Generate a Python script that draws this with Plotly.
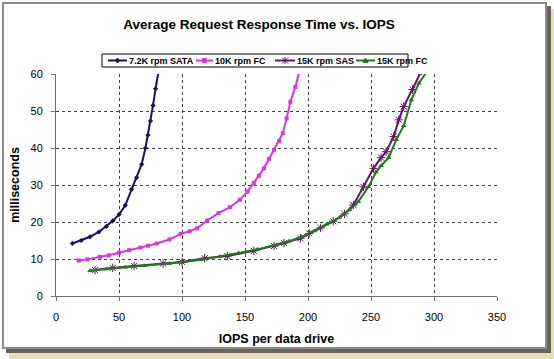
import plotly.graph_objects as go

# ---------------- data ----------------
sata_x = [13, 20, 27, 34, 40, 45, 50, 55, 60, 64, 68, 71, 73, 75, 77, 79, 81.5]
sata_y = [14.2, 15.0, 16.0, 17.3, 18.8, 20.3, 22.0, 24.5, 28.8, 32.0, 35.6, 40.0, 43.5, 47.3, 51.5, 56.0, 61.0]

fc10_x = [18, 25, 35, 42, 50, 58, 67, 73, 80, 90, 99, 106, 112, 120, 129, 138, 146, 152, 157, 161, 165, 169, 173, 177, 180, 183, 186, 190, 193]
fc10_y = [9.6, 9.9, 10.6, 11.0, 11.7, 12.4, 13.1, 13.6, 14.2, 15.3, 16.8, 17.5, 18.3, 20.4, 22.4, 24.0, 26.0, 28.2, 30.5, 32.5, 34.5, 37.0, 39.5, 41.8, 44.0, 48.0, 52.5, 56.5, 60.5]

sas_x = [31, 45, 62, 85, 100, 118, 136, 157, 173, 181, 194, 201, 210, 220, 229, 236, 244, 252, 258, 262, 268, 272, 276, 283, 290]
sas_y = [7.0, 7.6, 8.1, 8.8, 9.2, 10.2, 10.8, 12.2, 13.5, 14.3, 15.6, 16.9, 18.4, 20.2, 22.2, 24.6, 29.5, 34.5, 37.4, 39.0, 43.1, 47.6, 51.2, 55.8, 60.8]

fc15_x = [27, 40, 55, 70, 90, 100, 115, 130, 145, 160, 175, 185, 195, 205, 215, 225, 233, 240, 248, 254, 258, 264, 270, 276, 282, 288, 295]
fc15_y = [6.8, 7.3, 7.8, 8.2, 8.8, 9.1, 9.8, 10.6, 11.6, 12.6, 13.8, 14.8, 16.0, 17.6, 19.4, 21.2, 23.3, 25.5, 29.5, 33.5, 35.2, 37.4, 42.2, 46.0, 53.0, 57.5, 61.0]

series_names = ["7.2K rpm SATA", "10K rpm FC", "15K rpm SAS", "15K rpm FC"]
x_ticks = [0, 50, 100, 150, 200, 250, 300, 350]
y_ticks = [0, 10, 20, 30, 40, 50, 60]

# ---------------- styling ----------------
FONT = "Liberation Sans, Arial, sans-serif"
colors = ["#14145e", "#dd33dd", "#6a0f6a", "#1f7a1f"]
W, H = 554, 359
ML, MR, MT, MB = 56, 57, 74, 63
PW, PH = W - ML - MR, H - MT - MB

def px(x):
    return (x - ML) / PW

def py(y):
    return (H - MB - y) / PH

fig = go.Figure()
fig.add_trace(go.Scatter(x=sata_x, y=sata_y, name=series_names[0], mode="lines+markers",
                         line=dict(color=colors[0], width=2),
                         marker=dict(symbol="diamond", size=4, color=colors[0])))
fig.add_trace(go.Scatter(x=fc10_x, y=fc10_y, name=series_names[1], mode="lines+markers",
                         line=dict(color=colors[1], width=2),
                         marker=dict(symbol="square", size=4, color=colors[1])))
fig.add_trace(go.Scatter(x=sas_x, y=sas_y, name=series_names[2], mode="lines+markers",
                         line=dict(color=colors[2], width=2),
                         marker=dict(symbol="asterisk-open", size=7, color=colors[2],
                                     line=dict(color=colors[2], width=1))))
fig.add_trace(go.Scatter(x=fc15_x, y=fc15_y, name=series_names[3], mode="lines+markers",
                         line=dict(color=colors[3], width=2),
                         marker=dict(symbol="triangle-up", size=5, color=colors[3])))

shapes = []
# drop shadow + frame
shapes.append(dict(type="rect", xref="paper", yref="paper", layer="below",
                   x0=px(9), x1=px(556), y0=py(361), y1=py(9),
                   fillcolor="#e6dcb6", line=dict(width=0)))
shapes.append(dict(type="rect", xref="paper", yref="paper", layer="below",
                   x0=px(6), x1=px(551), y0=py(353), y1=py(6),
                   fillcolor="#66645c", line=dict(width=0)))
shapes.append(dict(type="rect", xref="paper", yref="paper", layer="below",
                   x0=px(3), x1=px(546), y0=py(348), y1=py(3),
                   fillcolor="white", line=dict(color="#8c8c8c", width=2)))

# custom legend
LY = 60.5
shapes.append(dict(type="rect", xref="paper", yref="paper",
                   x0=px(102), x1=px(408), y0=py(67), y1=py(54),
                   fillcolor="white", line=dict(color="black", width=1)))
legend_items = [(108, 127, 128), (196, 213, 214), (275, 295, 296), (356, 375, 376)]
annotations = []
for i, (a, b, t) in enumerate(legend_items):
    shapes.append(dict(type="line", xref="paper", yref="paper",
                       x0=px(a), x1=px(b), y0=py(LY), y1=py(LY),
                       line=dict(color=colors[i], width=2)))
    c = (a + b) / 2
    if i == 0:
        path = f"M{px(c)},{py(LY-2.5)} L{px(c+2)},{py(LY)} L{px(c)},{py(LY+2.5)} L{px(c-2)},{py(LY)} Z"
        shapes.append(dict(type="path", xref="paper", yref="paper", path=path,
                           fillcolor=colors[i], line=dict(color=colors[i], width=1)))
    elif i == 1:
        shapes.append(dict(type="rect", xref="paper", yref="paper",
                           x0=px(c-2), x1=px(c+2), y0=py(LY+2), y1=py(LY-2),
                           fillcolor=colors[i], line=dict(color=colors[i], width=1)))
    elif i == 2:
        for dx, dy in [(-3, -3), (-3, 3), (0, -3.5)]:
            shapes.append(dict(type="line", xref="paper", yref="paper",
                               x0=px(c+dx), x1=px(c-dx), y0=py(LY+dy), y1=py(LY-dy),
                               line=dict(color=colors[i], width=1)))
    else:
        path = f"M{px(c)},{py(LY-2.5)} L{px(c+2.5)},{py(LY+2)} L{px(c-2.5)},{py(LY+2)} Z"
        shapes.append(dict(type="path", xref="paper", yref="paper", path=path,
                           fillcolor=colors[i], line=dict(color=colors[i], width=1)))
    annotations.append(dict(text=f"<b>{series_names[i]}</b>", xref="paper", yref="paper",
                            x=px(t - 1), y=py(LY), xanchor="left", yanchor="middle",
                            showarrow=False, font=dict(family=FONT, size=9, color="black")))

fig.update_layout(
    width=W, height=H,
    margin=dict(l=ML, r=MR, t=MT, b=MB, autoexpand=False),
    paper_bgcolor="white", plot_bgcolor="rgba(0,0,0,0)",
    showlegend=False,
    title=dict(text="<b>Average Request Response Time vs. IOPS</b>",
               x=259 / W, xref="container", xanchor="center",
               y=1 - 24 / H, yref="container", yanchor="middle",
               font=dict(family=FONT, size=13.5, color="black")),
    font=dict(family=FONT, size=11, color="black"),
    shapes=shapes, annotations=annotations,
)
fig.update_xaxes(range=[0, 350], tickvals=x_ticks, ticktext=[str(v) for v in x_ticks],
                 showgrid=True, gridcolor="#404040", griddash="dot", gridwidth=1,
                 showline=True, linecolor="#707070", linewidth=1,
                 ticks="outside", ticklen=4, tickcolor="#707070",
                 ticklabelstandoff=7, zeroline=False,
                 title=dict(text="<b>IOPS per data drive</b>", standoff=12,
                            font=dict(family=FONT, size=12.5, color="black")))
fig.update_yaxes(range=[0, 60], tickvals=y_ticks, ticktext=[str(v) for v in y_ticks],
                 showgrid=True, gridcolor="#404040", griddash="dot", gridwidth=1,
                 showline=True, linecolor="#707070", linewidth=1,
                 ticks="outside", ticklen=4, tickcolor="#707070",
                 ticklabelstandoff=6, zeroline=False,
                 title=dict(text="<b>milliseconds</b>", standoff=8,
                            font=dict(family=FONT, size=12.5, color="black")))

fig.write_html("out.html", config={"displayModeBar": False},
               post_script="document.body.style.margin='0';document.body.style.padding='0';")
